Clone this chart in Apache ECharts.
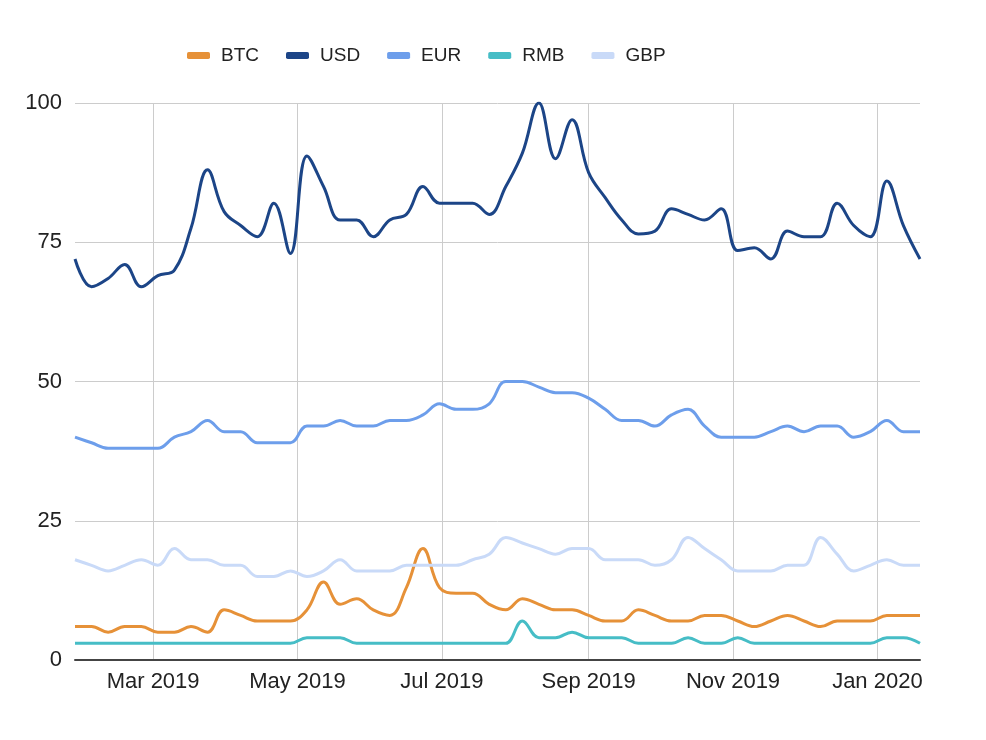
<!DOCTYPE html>
<html lang="en">
<head>
    <meta charset="UTF-8">
    <title>BTC vs currencies</title>
    <script src="https://cdn.jsdelivr.net/npm/echarts@6/dist/echarts.min.js"></script>
    <style>
        html, body {
            margin: 0;
            height: 100%;
            background: #fff;
        }
    </style>
</head>
<body>
<div id="main" style="width: 986px;height: 740px;"></div>
<script>
    // weekly samples
    var dates = [
        '2019-01-27', '2019-02-03', '2019-02-10', '2019-02-17', '2019-02-24',
        '2019-03-03', '2019-03-10', '2019-03-17', '2019-03-24', '2019-03-31',
        '2019-04-07', '2019-04-14', '2019-04-21', '2019-04-28',
        '2019-05-05', '2019-05-12', '2019-05-19', '2019-05-26',
        '2019-06-02', '2019-06-09', '2019-06-16', '2019-06-23', '2019-06-30',
        '2019-07-07', '2019-07-14', '2019-07-21', '2019-07-28',
        '2019-08-04', '2019-08-11', '2019-08-18', '2019-08-25',
        '2019-09-01', '2019-09-08', '2019-09-15', '2019-09-22', '2019-09-29',
        '2019-10-06', '2019-10-13', '2019-10-20', '2019-10-27',
        '2019-11-03', '2019-11-10', '2019-11-17', '2019-11-24',
        '2019-12-01', '2019-12-08', '2019-12-15', '2019-12-22', '2019-12-29',
        '2020-01-05', '2020-01-12', '2020-01-19'
    ];

    var btc = [6, 6, 5, 6, 6, 5, 5, 6, 5, 9, 8, 7, 7, 7, 9, 14, 10, 11, 9, 8,
        13, 20, 13, 12, 12, 10, 9, 11, 10, 9, 9, 8, 7, 7, 9, 8, 7, 7, 8, 8,
        7, 6, 7, 8, 7, 6, 7, 7, 7, 8, 8, 8];

    var usd = [72, 67, 68.5, 71, 67, 69, 70, 77.5, 88, 80.5, 78, 76, 82, 73, 90.5, 85,
        79, 79, 76, 79, 80, 85, 82, 82, 82, 80, 85, 91, 100, 90, 97, 87.5,
        83, 79, 76.5, 77, 81, 80, 79, 81, 73.5, 74, 72, 77, 76, 76, 82, 78,
        76, 86, 78, 72];

    var eur = [40, 39, 38, 38, 38, 38, 40, 41, 43, 41, 41, 39, 39, 39, 42, 42, 43, 42,
        42, 43, 43, 44, 46, 45, 45, 46, 50, 50, 49, 48, 48, 47, 45, 43, 43, 42,
        44, 45, 42, 40, 40, 40, 41, 42, 41, 42, 42, 40, 41, 43, 41, 41];

    var rmb = [3, 3, 3, 3, 3, 3, 3, 3, 3, 3, 3, 3, 3, 3, 4, 4, 4, 3, 3, 3, 3, 3, 3,
        3, 3, 3, 3, 7, 4, 4, 5, 4, 4, 4, 3, 3, 3, 4, 3, 3, 4, 3, 3, 3, 3, 3, 3,
        3, 3, 4, 4, 3];

    var gbp = [18, 17, 16, 17, 18, 17, 20, 18, 18, 17, 17, 15, 15, 16, 15, 16, 18, 16,
        16, 16, 17, 17, 17, 17, 18, 19, 22, 21, 20, 19, 20, 20, 18, 18, 18, 17,
        18, 22, 20, 18, 16, 16, 16, 17, 17, 22, 19, 16, 17, 18, 17, 17];

    var seriesNames = ['BTC', 'USD', 'EUR', 'RMB', 'GBP'];
    var seriesColors = ['#e69138', '#1c4587', '#6d9eeb', '#46bdc6', '#c9daf8'];
    var monthNames = ['Jan', 'Feb', 'Mar', 'Apr', 'May', 'Jun',
        'Jul', 'Aug', 'Sep', 'Oct', 'Nov', 'Dec'];
    var yTicks = [0, 25, 50, 75, 100];

    var ONE_DAY = 24 * 3600 * 1000;

    var values = [btc, usd, eur, rmb, gbp];
    var series = [];
    for (var s = 0; s < seriesNames.length; s++) {
        var pts = [];
        for (var i = 0; i < dates.length; i++) {
            pts.push([dates[i], values[s][i]]);
        }
        series.push({
            name: seriesNames[s],
            type: 'line',
            data: pts,
            smooth: 0.4,
            showSymbol: false,
            lineStyle: {width: 3, color: seriesColors[s]},
            itemStyle: {color: seriesColors[s]}
        });
    }

    var myChart = echarts.init(document.getElementById('main'));
    var option = {
        animation: false,
        color: seriesColors,
        textStyle: {fontFamily: 'Liberation Sans, Arial, sans-serif'},
        legend: {
            data: seriesNames,
            left: 187,
            top: 46,
            padding: 0,
            icon: 'roundRect',
            itemWidth: 23,
            itemHeight: 7,
            itemGap: 27,
            textStyle: {fontSize: 19, color: '#222', padding: [0, 0, 0, 6]}
        },
        grid: {left: 75, right: 66, top: 103, bottom: 80},
        xAxis: {
            type: 'time',
            min: dates[0],
            max: dates[dates.length - 1],
            // two-month steps: Mar, May, Jul, Sep, Nov, Jan
            minInterval: 61 * ONE_DAY,
            axisLine: {lineStyle: {color: '#444', width: 2}},
            axisTick: {show: false},
            axisLabel: {
                fontSize: 22,
                color: '#222',
                margin: 11,
                showMinLabel: false,
                showMaxLabel: false,
                formatter: function (value) {
                    var d = new Date(value);
                    return monthNames[d.getMonth()] + ' ' + d.getFullYear();
                }
            },
            splitLine: {
                show: true,
                showMinLine: false,
                showMaxLine: false,
                lineStyle: {color: '#cccccc', width: 1}
            }
        },
        yAxis: {
            type: 'value',
            min: yTicks[0],
            max: yTicks[yTicks.length - 1],
            interval: 25,
            axisLine: {show: false},
            axisTick: {show: false},
            axisLabel: {fontSize: 22, color: '#222', margin: 13},
            splitLine: {lineStyle: {color: '#cccccc', width: 1}}
        },
        series: series
    };
    myChart.setOption(option);
</script>
</body>
</html>
